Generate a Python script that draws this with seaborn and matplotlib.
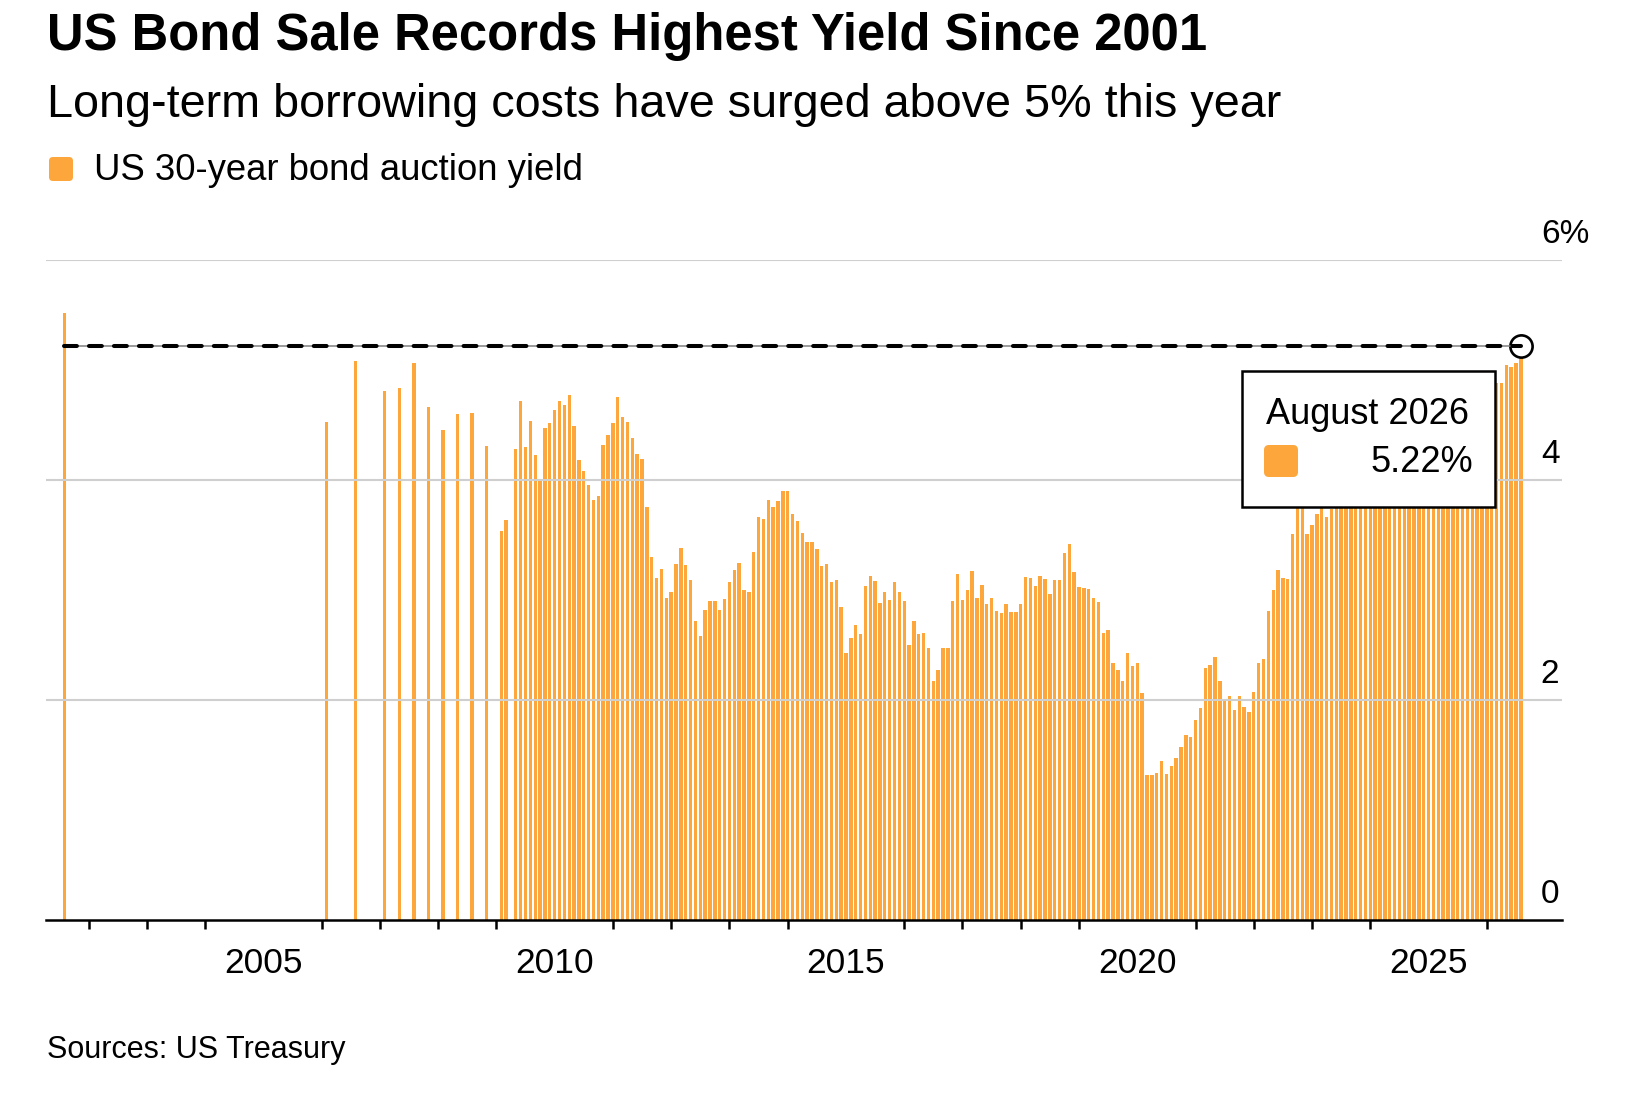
import numpy as np
import pandas as pd
import matplotlib.pyplot as plt
import seaborn as sns
from matplotlib.patches import Rectangle, FancyBboxPatch
from matplotlib.transforms import IdentityTransform

# auction months (30-year bond) and yields in percent
months = [
    "2001-08",
    "2006-02", "2006-08", "2007-02", "2007-05", "2007-08", "2007-11",
    "2008-02", "2008-05", "2008-08", "2008-11",
    "2009-02", "2009-03", "2009-05", "2009-06", "2009-07", "2009-08",
    "2009-09", "2009-10", "2009-11", "2009-12",
] + [f"{y}-{m:02d}" for y in range(2010, 2026) for m in range(1, 13)] + [
    "2026-01", "2026-02", "2026-03", "2026-04", "2026-05", "2026-06",
    "2026-07", "2026-08",
]

yields_early = [5.52, 4.53, 5.08, 4.81, 4.84, 5.06, 4.66, 4.45, 4.60, 4.61, 4.31]
yields_2009 = [3.54, 3.64, 4.28, 4.72, 4.30, 4.54, 4.23, 4.01, 4.47, 4.52]
yields_2010 = [4.64, 4.72, 4.68, 4.77, 4.49, 4.18, 4.08, 3.95, 3.82, 3.85, 4.32, 4.41]
yields_2011 = [4.52, 4.75, 4.57, 4.53, 4.38, 4.24, 4.19, 3.75, 3.30, 3.11, 3.19, 2.93]
yields_2012 = [2.98, 3.24, 3.38, 3.23, 3.09, 2.72, 2.58, 2.82, 2.90, 2.90, 2.82, 2.92]
yields_2013 = [3.07, 3.18, 3.25, 3.00, 2.98, 3.35, 3.66, 3.65, 3.82, 3.75, 3.81, 3.90]
yields_2014 = [3.90, 3.69, 3.63, 3.52, 3.44, 3.44, 3.37, 3.22, 3.24, 3.07, 3.09, 2.85]
yields_2015 = [2.43, 2.56, 2.68, 2.60, 3.04, 3.13, 3.08, 2.88, 2.98, 2.91, 3.07, 2.98]
yields_2016 = [2.90, 2.50, 2.72, 2.60, 2.61, 2.47, 2.17, 2.27, 2.47, 2.47, 2.90, 3.15]
yields_2017 = [2.91, 3.00, 3.17, 2.93, 3.05, 2.87, 2.93, 2.81, 2.79, 2.87, 2.80, 2.80]
yields_2018 = [2.87, 3.12, 3.11, 3.04, 3.13, 3.10, 2.96, 3.09, 3.09, 3.34, 3.42, 3.16]
yields_2019 = [3.03, 3.02, 3.01, 2.93, 2.89, 2.61, 2.64, 2.34, 2.27, 2.17, 2.43, 2.31]
yields_2020 = [2.34, 2.06, 1.32, 1.32, 1.34, 1.45, 1.33, 1.40, 1.47, 1.57, 1.68, 1.66]
yields_2021 = [1.82, 1.93, 2.29, 2.32, 2.39, 2.17, 2.00, 2.04, 1.91, 2.04, 1.94, 1.89]
yields_2022 = [2.07, 2.34, 2.37, 2.81, 3.00, 3.18, 3.11, 3.10, 3.51, 3.89, 4.07, 3.51]
yields_2023 = [3.59, 3.69, 3.88, 3.66, 3.74, 3.90, 3.98, 4.19, 4.35, 4.84, 4.77, 4.34]
yields_2024 = [4.22, 4.36, 4.33, 4.81, 4.64, 4.42, 4.40, 4.31, 4.01, 4.39, 4.61, 4.54]
yields_2025 = [4.91, 4.75, 4.62, 4.81, 4.90, 4.84, 4.89, 4.81, 4.65, 4.73, 4.69, 4.77]
yields_2026 = [4.80, 4.82, 4.88, 4.88, 5.05, 5.03, 5.06, 5.22]

yields = (yields_early + yields_2009 + yields_2010 + yields_2011 + yields_2012
          + yields_2013 + yields_2014 + yields_2015 + yields_2016 + yields_2017
          + yields_2018 + yields_2019 + yields_2020 + yields_2021 + yields_2022
          + yields_2023 + yields_2024 + yields_2025 + yields_2026)

title = "US Bond Sale Records Highest Yield Since 2001"
subtitle = "Long-term borrowing costs have surged above 5% this year"
series_label = "US 30-year bond auction yield"
source = "Sources: US Treasury"
ytick_values = [0, 2, 4, 6]
ytick_labels = ["0", "2", "4", "6%"]
xtick_major = [2005, 2010, 2015, 2020, 2025]

ORANGE = "#fca63c"
W, H = 1639, 1101


def fx(px):
    return px / W


def fy(py):
    return 1 - py / H


df = pd.DataFrame({"month": pd.to_datetime(months), "yield": yields})
df["x"] = df["month"].dt.year + (df["month"].dt.month - 1) / 12

sns.set_theme(style="white")
plt.rcParams["font.family"] = ["Liberation Sans", "DejaVu Sans"]
plt.rcParams.update({"text.color": "black", "xtick.color": "black"})

fig = plt.figure(figsize=(W / 100, H / 100), dpi=100)
ax = fig.add_axes([fx(46), fy(920), fx(1562) - fx(46), fy(260) - fy(920)])

sns.barplot(data=df, x="x", y="yield", native_scale=True, color=ORANGE,
            saturation=1, width=0.7, errorbar=None, linewidth=0, ax=ax)

ax.set_xlim(2001.27, 2027.29)
ax.set_ylim(0, 6)
ax.set_xlabel("")
ax.set_ylabel("")

# grid lines (drawn over the bars, like the original)
ax.set_yticks([2, 4, 6])
ax.set_yticklabels([])
ax.tick_params(axis="y", length=0)
ax.yaxis.grid(True, color="#cfcfcf", lw=1.5)
ax.set_axisbelow(False)

ax.set_xticks(xtick_major)
ax.set_xticklabels([str(y) for y in xtick_major], fontsize=25.5)
ax.set_xticks([y for y in range(2002, 2027) if y not in xtick_major], minor=True)
ax.tick_params(axis="x", which="major", length=12.5, width=1.8, pad=7, direction="out")
ax.tick_params(axis="x", which="minor", length=6.5, width=1.8, direction="out", bottom=True)

for side in ["top", "left", "right"]:
    ax.spines[side].set_visible(False)
ax.spines["bottom"].set_color("black")
ax.spines["bottom"].set_linewidth(1.8)

for v, lab in zip(ytick_values, ytick_labels):
    ax.annotate(lab, xy=(0.986, v), xycoords=ax.get_yaxis_transform(),
                xytext=(0, 12), textcoords="offset points",
                ha="left", va="baseline", fontsize=24, annotation_clip=False)

# reference line at the latest yield, open circle on the last auction
last = df.iloc[-1]
x0, x1 = df["x"].iloc[0], last["x"]
ax.plot([x1], [last["yield"]], marker="o", ms=16, mfc="white", mec="black",
        mew=1.9, zorder=5, clip_on=False)
ax.plot([x0, x1], [last["yield"]] * 2, color="#808080", lw=1.1, zorder=6)
ax.plot([x0, x1], [last["yield"]] * 2, color="black", lw=2.9,
        linestyle=(0, (3.2, 3.0)), dash_capstyle="round", zorder=7)

# titles and legend
fig.text(fx(47), fy(50), title, fontsize=36.5, fontweight="bold", va="baseline")
fig.text(fx(47), fy(117), subtitle, fontsize=33.7, va="baseline")
fig.add_artist(FancyBboxPatch((49, H - 181), 24, 24,
                              boxstyle="round,pad=0,rounding_size=4",
                              transform=IdentityTransform(),
                              facecolor=ORANGE, edgecolor="none"))
fig.text(fx(94), fy(180), series_label, fontsize=26.3, va="baseline")
fig.text(fx(47), fy(1058), source, fontsize=22, va="baseline")

# tooltip box for the latest auction
box = Rectangle((fx(1242), fy(507)), fx(1495) - fx(1242), fy(371) - fy(507),
                transform=fig.transFigure, facecolor="white",
                edgecolor="black", lw=1.8, zorder=10)
fig.add_artist(box)
fig.add_artist(FancyBboxPatch((1264, H - 477), 34, 32,
                              boxstyle="round,pad=0,rounding_size=5",
                              transform=IdentityTransform(),
                              facecolor=ORANGE, edgecolor="none", zorder=11))
fig.text(fx(1266), fy(424), last["month"].strftime("%B %Y"), fontsize=26,
         va="baseline", zorder=11)
fig.text(fx(1473), fy(472), f"{last['yield']:.2f}%", fontsize=26,
         ha="right", va="baseline", zorder=11)

fig.savefig("out.png", dpi=100)
